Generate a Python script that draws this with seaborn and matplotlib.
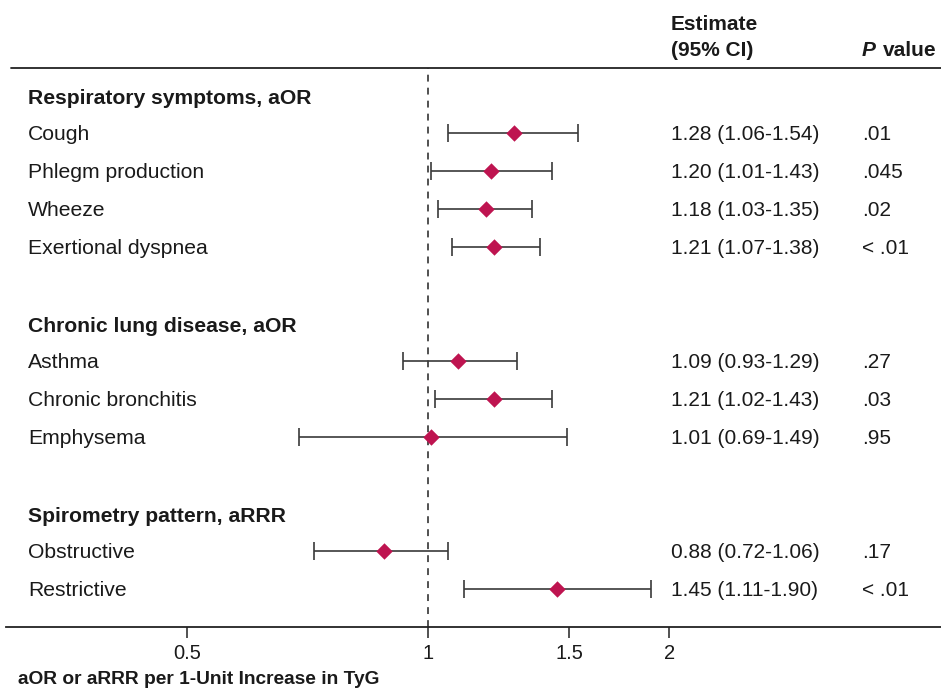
import matplotlib
matplotlib.use("Agg")
import matplotlib.pyplot as plt
import seaborn as sns
import pandas as pd
import numpy as np

sns.set_theme(style="white")
plt.rcParams['font.family'] = ['Liberation Sans', 'DejaVu Sans']

# ---- data ----
group_titles = ["Respiratory symptoms, aOR", "Chronic lung disease, aOR", "Spirometry pattern, aRRR"]
group_rows = [0, 6, 11]
labels = ["Cough", "Phlegm production", "Wheeze", "Exertional dyspnea",
          "Asthma", "Chronic bronchitis", "Emphysema",
          "Obstructive", "Restrictive"]
rows = [1, 2, 3, 4, 7, 8, 9, 12, 13]
estimates = [1.28, 1.20, 1.18, 1.21, 1.09, 1.21, 1.01, 0.88, 1.45]
ci_low = [1.06, 1.01, 1.03, 1.07, 0.93, 1.02, 0.69, 0.72, 1.11]
ci_high = [1.54, 1.43, 1.35, 1.38, 1.29, 1.43, 1.49, 1.06, 1.90]
p_values = [".01", ".045", ".02", "< .01", ".27", ".03", ".95", ".17", "< .01"]
xticks = [0.5, 1, 1.5, 2]
xtick_labels = ["0.5", "1", "1.5", "2"]

df = pd.DataFrame({"label": labels, "row": rows, "est": estimates,
                   "lo": ci_low, "hi": ci_high, "p": p_values})

W, H = 941, 690
fig = plt.figure(figsize=(W / 100, H / 100), dpi=100)
ax_left, ax_right = 6 / W, 1.0
ax_top, ax_bot = 1 - 68 / H, 1 - 627 / H
ax = fig.add_axes([ax_left, ax_bot, ax_right - ax_left, ax_top - ax_bot])

ax.set_xscale("log")
xmin = np.exp((6 - 428) / 348.0)
xmax = np.exp((941 - 428) / 348.0)
ax.set_xlim(xmin, xmax)
ax.set_ylim((627 - 95) / 38.0, (68 - 95) / 38.0)

# reference line
ax.axvline(1, color="#222222", lw=1.1, ls=(0, (4.5, 4)), zorder=1)

# CI bars
ax.errorbar(df["est"], df["row"],
            xerr=[df["est"] - df["lo"], df["hi"] - df["est"]],
            fmt="none", ecolor="#3a3a3a", elinewidth=1.2, capsize=6.5, capthick=1.2, zorder=2)

# point estimates
sns.scatterplot(data=df, x="est", y="row", marker="D", s=70, color="#BE1450",
                edgecolor="#BE1450", linewidth=0, ax=ax, zorder=3, legend=False)

trans = matplotlib.transforms.blended_transform_factory(fig.transFigure, ax.transData)
fs_lab = 15.2
fs_num = 15.0
txt = "#1a1a1a"
for t, r in zip(group_titles, group_rows):
    ax.text(28 / W, r + 0.1, t, transform=trans, fontsize=fs_lab, fontweight="bold",
            ha="left", va="center", color=txt)
for _, d in df.iterrows():
    ax.text(28 / W, d["row"] + 0.03, d["label"], transform=trans, fontsize=fs_lab,
            ha="left", va="center", color=txt)
    ax.text(671 / W, d["row"] + 0.03, f"{d['est']:.2f} ({d['lo']:.2f}-{d['hi']:.2f})",
            transform=trans, fontsize=fs_num, ha="left", va="center", color=txt)
    ax.text(862 / W, d["row"] + 0.03, d["p"], transform=trans, fontsize=fs_num,
            ha="left", va="center", color=txt)

# header
fig.text(671 / W, 1 - 25 / H, "Estimate", fontsize=fs_num, fontweight="bold",
         ha="left", va="center", color=txt)
fig.text(671 / W, 1 - 50 / H, "(95% CI)", fontsize=fs_num, fontweight="bold",
         ha="left", va="center", color=txt)
fig.text(862 / W, 1 - 50 / H, "P", fontsize=fs_num, fontweight="bold", fontstyle="italic",
         ha="left", va="center", color=txt)
fig.text(937 / W, 1 - 50 / H, "value", fontsize=fs_num, fontweight="bold",
         ha="right", va="center", color=txt)

# spines
for s in ["left", "right", "top"]:
    ax.spines[s].set_visible(False)
ax.plot([11 / W, 1.0], [1 - 68 / H, 1 - 68 / H], transform=fig.transFigure,
        color="#222222", lw=1.3, clip_on=False, zorder=4)
ax.spines["bottom"].set_color("#222222")
ax.spines["bottom"].set_linewidth(1.3)
ax.set_yticks([])
ax.set_ylabel("")
ax.set_xlabel("")
ax.set_xticks(xticks)
ax.set_xticklabels(xtick_labels, fontsize=14.5)
ax.xaxis.set_minor_locator(matplotlib.ticker.NullLocator())
ax.tick_params(axis="x", bottom=True, direction="out", length=8, width=1.1,
               color="#222222", pad=4, labelcolor=txt)

fig.text(18 / W, 1 - 680 / H, "aOR or aRRR per 1-Unit Increase in TyG",
         fontsize=13.8, fontweight="bold", ha="left", va="center", color=txt)

fig.savefig("out.png", dpi=100)
